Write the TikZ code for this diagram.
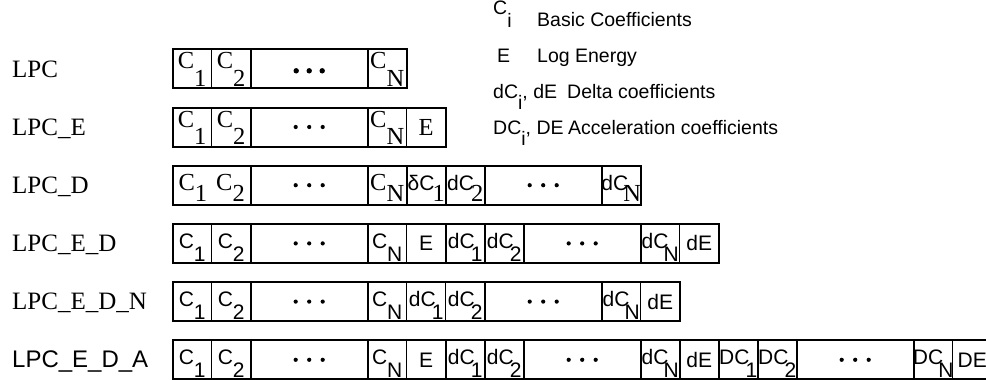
\documentclass[tikz,border=0pt]{standalone}
\usepackage{fontspec}
\setmainfont{Liberation Serif}
\setsansfont{Liberation Sans}
\newcommand\subA[1]{\raisebox{-0.72em}{#1}}
\newcommand\subB[1]{\raisebox{-0.48em}{#1}}
\newcommand\subC[1]{\raisebox{-0.62em}{#1}}
\newcommand\subD[1]{\kern-4pt\raisebox{-0.62em}{#1}}
\newcommand\subN[1]{\kern-5pt\raisebox{-0.62em}{#1}}
\newcommand\sfc{\sffamily\fontsize{21}{23}\selectfont}
\newcommand\mkcell[6]{\node[cell,#1,minimum width=#5*39pt] (#2) at ({172.7+39*#4},#3) {\makebox[0pt]{#6}};}
\newcommand\framerow[2]{\draw[frame] (#1.north west) rectangle (#2.south east);}
\def\Ta{49.3}
\def\Tb{107.5}
\def\Tc{165.7}
\def\Td{223.9}
\def\Te{282.1}
\def\Tf{340.3}
\begin{document}
\begin{tikzpicture}[x=1pt,y=-1pt,
  cell/.style={draw, line width=1.1pt, inner sep=0pt, outer sep=0pt, minimum height=39pt, anchor=north west},
  dotc/.style={line width=1.8pt},
  frame/.style={draw, line width=2pt},
  sera/.style={font=\fontsize{24.5}{26}\selectfont, text height=12pt, text depth=12pt},
  serb/.style={font=\fontsize{24.5}{26}\selectfont, text height=15pt, text depth=5pt},
  serp/.style={font=\fontsize{24.5}{26}\selectfont},
  sanc/.style={font=\sfc, text height=15pt, text depth=5pt},
  sanp/.style={font=\sfc},
  rowlab/.style={anchor=base west, inner sep=0pt, font=\fontsize{25}{28}\selectfont},
  rowlabs/.style={anchor=base west, inner sep=0pt, font=\sffamily\fontsize{24}{27}\selectfont},
  leg/.style={anchor=base west, inner sep=0pt, font=\sffamily\fontsize{19.5}{22}\selectfont}
]
\useasboundingbox (0,0) rectangle (986,380);

% legend
\node[leg] (lc) at (493,14.5) {C\raisebox{-0.65em}{i}};
\node[leg] (lct) at (537,27) {Basic Coefficients};
\node[leg] (le) at (497,62) {E};
\node[leg] (let) at (537,62) {Log Energy};
\node[leg] (ld) at (493,98) {dC\raisebox{-0.6em}{i}, dE};
\node[leg] (ldt) at (567,98) {Delta coefficients};
\node[leg] (la) at (493,134) {DC\raisebox{-0.6em}{i}, DE};
\node[leg] (lat) at (568,134) {Acceleration coefficients};

% row labels
\node[rowlab] (l1) at (12,77.1) {LPC};
\node[rowlab] (l2) at (12,135.3) {LPC\_E};
\node[rowlab] (l3) at (12,193.5) {LPC\_D};
\node[rowlab] (l4) at (12,251.7) {LPC\_E\_D};
\node[rowlab] (l5) at (12,309.9) {LPC\_E\_D\_N};
\node[rowlabs] (l6) at (12,367.9) {LPC\_E\_D\_A};

% row 1
\mkcell{sera}{r1c1}{\Ta}{0}{1}{C\subA{1}}
\mkcell{sera}{r1c2}{\Ta}{1}{1}{C\subA{2}}
\mkcell{sera,dotc}{r1d}{\Ta}{2}{3}{}
\mkcell{sera}{r1cN}{\Ta}{5}{1}{C\subA{N}}
\framerow{r1c1}{r1cN}

% row 2
\mkcell{sera}{r2c1}{\Tb}{0}{1}{C\subA{1}}
\mkcell{sera}{r2c2}{\Tb}{1}{1}{C\subA{2}}
\mkcell{sera,dotc}{r2d}{\Tb}{2}{3}{}
\mkcell{sera}{r2cN}{\Tb}{5}{1}{C\subA{N}}
\mkcell{serp}{r2e}{\Tb}{6}{1}{E}
\framerow{r2c1}{r2e}

% row 3
\mkcell{serb}{r3c12}{\Tc}{0}{2}{C\subB{1}\hspace{9pt}C\subB{2}}
\mkcell{serb,dotc}{r3d1}{\Tc}{2}{3}{}
\mkcell{serb}{r3cN}{\Tc}{5}{1}{C\subB{N}}
\mkcell{serb,dotc}{r3dc1}{\Tc}{6}{1}{{\sfc δC}\kern-2pt\subB{1}}
\mkcell{serb}{r3dc2}{\Tc}{7}{1}{{\sfc dC}\kern-3pt\subB{2}}
\mkcell{serb,dotc}{r3d2}{\Tc}{8}{3}{}
\mkcell{serb}{r3dcN}{\Tc}{11}{1}{{\sfc dC}\kern-5pt\subB{N}}
\framerow{r3c12}{r3dcN}

% row 4
\mkcell{sanc}{r4c1}{\Td}{0}{1}{C\subC{1}}
\mkcell{sanc}{r4c2}{\Td}{1}{1}{C\subC{2}}
\mkcell{sanc,dotc}{r4d1}{\Td}{2}{3}{}
\mkcell{sanc}{r4cN}{\Td}{5}{1}{C\subC{N}}
\mkcell{sanp}{r4e}{\Td}{6}{1}{E}
\mkcell{sanc,dotc}{r4dc1}{\Td}{7}{1}{dC\subD{1}}
\mkcell{sanc}{r4dc2}{\Td}{8}{1}{dC\subD{2}}
\mkcell{sanc,dotc}{r4d2}{\Td}{9}{3}{}
\mkcell{sanc}{r4dcN}{\Td}{12}{1}{dC\subN{N}}
\mkcell{sanp}{r4de}{\Td}{13}{1}{dE}
\framerow{r4c1}{r4de}

% row 5
\mkcell{sanc}{r5c1}{\Te}{0}{1}{C\subC{1}}
\mkcell{sanc}{r5c2}{\Te}{1}{1}{C\subC{2}}
\mkcell{sanc,dotc}{r5d1}{\Te}{2}{3}{}
\mkcell{sanc}{r5cN}{\Te}{5}{1}{C\subC{N}}
\mkcell{sanc}{r5dc1}{\Te}{6}{1}{dC\subD{1}}
\mkcell{sanc}{r5dc2}{\Te}{7}{1}{dC\subD{2}}
\mkcell{sanc,dotc}{r5d2}{\Te}{8}{3}{}
\mkcell{sanc}{r5dcN}{\Te}{11}{1}{dC\subN{N}}
\mkcell{sanp}{r5de}{\Te}{12}{1}{dE}
\framerow{r5c1}{r5de}

% row 6
\mkcell{sanc}{r6c1}{\Tf}{0}{1}{C\subC{1}}
\mkcell{sanc}{r6c2}{\Tf}{1}{1}{C\subC{2}}
\mkcell{sanc,dotc}{r6d1}{\Tf}{2}{3}{}
\mkcell{sanc}{r6cN}{\Tf}{5}{1}{C\subC{N}}
\mkcell{sanp}{r6e}{\Tf}{6}{1}{E}
\mkcell{sanc,dotc}{r6dc1}{\Tf}{7}{1}{dC\subD{1}}
\mkcell{sanc}{r6dc2}{\Tf}{8}{1}{dC\subD{2}}
\mkcell{sanc,dotc}{r6d2}{\Tf}{9}{3}{}
\mkcell{sanc}{r6dcN}{\Tf}{12}{1}{dC\subN{N}}
\mkcell{sanp,dotc}{r6de}{\Tf}{13}{1}{dE}
\mkcell{sanc,dotc}{r6DC1}{\Tf}{14}{1}{DC\subD{1}}
\mkcell{sanc}{r6DC2}{\Tf}{15}{1}{DC\subD{2}}
\mkcell{sanc,dotc}{r6d3}{\Tf}{16}{3}{}
\mkcell{sanc}{r6DCN}{\Tf}{19}{1}{DC\subN{N}}
\mkcell{sanp}{r6DE}{\Tf}{20}{1}{DE}
\framerow{r6c1}{r6DE}

% ellipsis dots
\foreach \dx in {-13,0,13} \fill ([xshift=\dx pt, yshift=-2pt]r1d.center) circle (2.7);
\foreach \n in {r2d,r3d1,r3d2,r4d1,r4d2,r5d1,r5d2,r6d1,r6d2,r6d3}
  \foreach \dx in {-13.5,0,13.5} \fill ([xshift=\dx pt]\n.center) circle (2.1);
\end{tikzpicture}
\end{document}
